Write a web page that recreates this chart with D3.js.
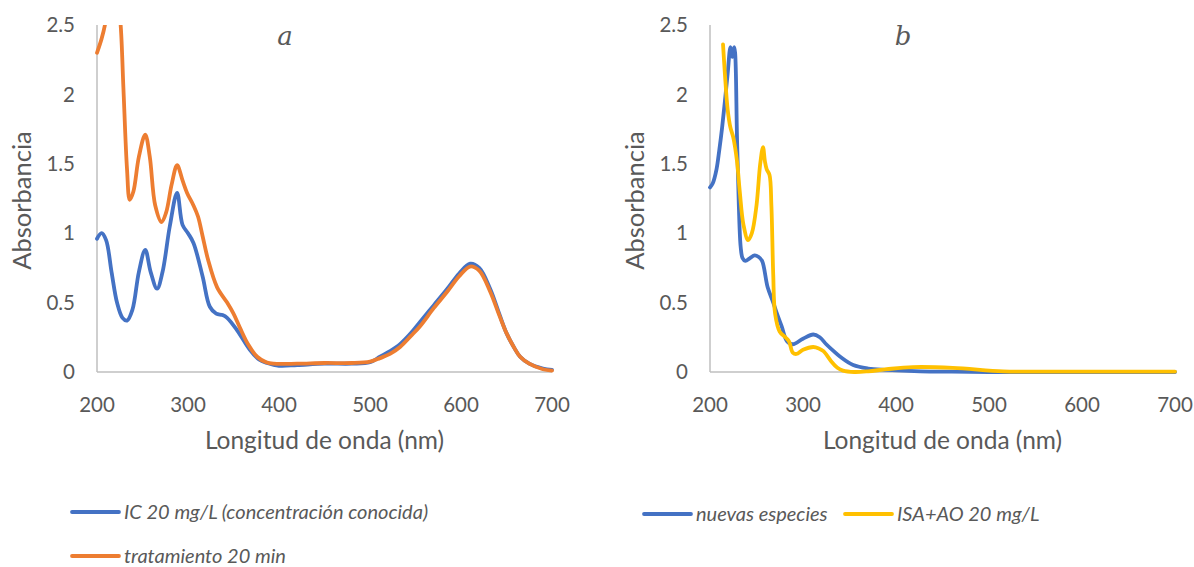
<!DOCTYPE html>
<html>
<head>
<meta charset="utf-8">
<script src="https://cdn.jsdelivr.net/npm/d3@7"></script>
<style>
  body { margin: 0; background: #fff; }
  text { font-family: Lato, "Open Sans", sans-serif; fill: #595959; }
</style>
</head>
<body>
<div id="chart"></div>
<script>
// panel a
const icNm = [200, 205, 210, 216, 222, 228, 233, 239, 246, 253, 259, 266, 272, 280, 288, 294, 300, 306, 316, 324, 331, 338, 343, 354, 368, 378, 387, 400, 420, 450, 480, 500, 511, 522, 533, 545, 555, 570, 585, 598, 610, 620, 632, 642, 650, 658, 665, 675, 690, 700];
const icAbs = [0.96, 1.0, 0.95, 0.72, 0.5, 0.39, 0.37, 0.45, 0.72, 0.88, 0.72, 0.6, 0.72, 1.05, 1.29, 1.06, 1.0, 0.93, 0.69, 0.47, 0.42, 0.41, 0.39, 0.3, 0.16, 0.09, 0.065, 0.045, 0.05, 0.06, 0.06, 0.07, 0.11, 0.15, 0.2, 0.28, 0.36, 0.48, 0.6, 0.71, 0.78, 0.75, 0.6, 0.42, 0.28, 0.18, 0.11, 0.06, 0.025, 0.015];

const trNm = [200, 205, 209, 213, 218, 222, 226, 229, 233, 236, 240, 246, 253, 258, 264, 271, 276, 282, 288, 294, 299, 306, 311, 316, 322, 332, 343, 350, 357, 366, 376, 386, 394, 420, 450, 480, 500, 511, 522, 533, 545, 555, 570, 585, 598, 610, 620, 632, 642, 650, 658, 665, 675, 690, 700];
const trAbs = [2.3, 2.4, 2.51, 2.75, 2.9, 2.75, 2.5, 2.05, 1.46, 1.24, 1.3, 1.55, 1.71, 1.55, 1.2, 1.08, 1.15, 1.35, 1.49, 1.38, 1.29, 1.2, 1.12, 0.98, 0.81, 0.61, 0.5, 0.42, 0.32, 0.2, 0.11, 0.07, 0.06, 0.06, 0.065, 0.065, 0.075, 0.1, 0.13, 0.18, 0.26, 0.33, 0.46, 0.58, 0.69, 0.76, 0.73, 0.58, 0.41, 0.28, 0.18, 0.11, 0.06, 0.02, 0.01];

// panel b
const nuNm = [200, 203, 207, 210, 213, 216, 219, 222, 224, 226, 227, 229, 231, 233, 235, 238, 243, 248, 252, 256, 262, 268, 272, 277, 283, 289, 300, 311, 318, 325, 333, 340, 354, 370, 390, 426, 460, 500, 550, 600, 700];
const nuAbs = [1.33, 1.36, 1.46, 1.6, 1.76, 1.95, 2.15, 2.34, 2.27, 2.34, 2.3, 1.7, 1.2, 0.9, 0.82, 0.8, 0.82, 0.84, 0.83, 0.8, 0.61, 0.5, 0.42, 0.33, 0.22, 0.2, 0.24, 0.27, 0.25, 0.2, 0.15, 0.11, 0.05, 0.025, 0.015, 0.005, 0.002, 0, 0, 0, 0];

const isNm = [214, 216, 219, 222, 225, 229, 232, 236, 241, 245, 250, 254, 257, 259, 261, 264, 266, 268, 270, 275, 281, 285, 289, 293, 300, 311, 317, 322, 330, 337, 343, 355, 370, 390, 418, 461, 515, 555, 600, 700];
const isAbs = [2.36, 2.15, 1.89, 1.76, 1.69, 1.52, 1.3, 1.06, 0.95, 1.0, 1.2, 1.5, 1.62, 1.52, 1.46, 1.42, 1.2, 0.7, 0.42, 0.29, 0.25, 0.22, 0.14, 0.13, 0.16, 0.18, 0.17, 0.15, 0.08, 0.03, 0.01, 0, 0.005, 0.02, 0.035, 0.03, 0.005, 0.003, 0.003, 0.003];

const xTicks = [200, 300, 400, 500, 600, 700];
const yTicks = [0, 0.5, 1, 1.5, 2, 2.5];

const width = 1194, height = 567;

const svg = d3.select("#chart")
  .append("svg")
  .attr("width", width)
  .attr("height", height);

function panel(id, box, series, letter, legend) {
  let x = d3.scaleLinear().domain([200, 700]).range([box.left, box.right]),
      y = d3.scaleLinear().domain([0, 2.5]).range([box.bottom, box.top]);

  svg.append("clipPath")
    .attr("id", "clip-" + id)
    .append("rect")
    .attr("x", box.left - 5)
    .attr("y", box.top)
    .attr("width", box.right - box.left + 10)
    .attr("height", box.bottom - box.top + 10);

  // axis lines only, no ticks
  svg.append("line")
    .attr("x1", box.left).attr("x2", box.left)
    .attr("y1", box.top).attr("y2", box.bottom)
    .style("stroke", "#bfbfbf").style("stroke-width", 1.5);
  svg.append("line")
    .attr("x1", box.left).attr("x2", box.right)
    .attr("y1", box.bottom).attr("y2", box.bottom)
    .style("stroke", "#bfbfbf").style("stroke-width", 1.5);

  svg.selectAll(".ytick-" + id)
    .data(yTicks)
    .enter()
    .append("text")
    .attr("class", "ytick-" + id)
    .attr("x", box.left - 22)
    .attr("y", (d) => y(d))
    .attr("dy", "0.35em")
    .attr("text-anchor", "end")
    .style("font-size", "20.5px")
    .text((d) => d);

  svg.selectAll(".xtick-" + id)
    .data(xTicks)
    .enter()
    .append("text")
    .attr("class", "xtick-" + id)
    .attr("x", (d) => x(d))
    .attr("y", box.bottom + 33)
    .attr("dy", "0.35em")
    .attr("text-anchor", "middle")
    .style("font-size", "20.5px")
    .text((d) => d);

  svg.append("text")
    .text("Longitud de onda (nm)")
    .attr("x", (box.left + box.right) / 2)
    .attr("y", box.bottom + 77)
    .attr("text-anchor", "middle")
    .style("font-size", "24.5px");

  svg.append("text")
    .text("Absorbancia")
    .attr("transform", "translate(" + (box.left - 66) + "," + ((box.top + box.bottom) / 2 + 2) + ") rotate(-90)")
    .attr("text-anchor", "middle")
    .style("font-size", "25.5px");

  svg.append("text")
    .text(letter.t)
    .attr("x", letter.x)
    .attr("y", 45)
    .attr("text-anchor", "middle")
    .style("font-family", "'DejaVu Serif', 'Liberation Serif', serif")
    .style("font-style", "italic")
    .style("font-size", "26px");

  let line = d3.line()
    .x((d) => x(d[0]))
    .y((d) => y(d[1]))
    .curve(d3.curveCatmullRom.alpha(0.5));

  series.forEach(function(s) {
    let pts = s.nm.map((v, i) => [v, s.abs[i]]);
    svg.append("path")
      .datum(pts)
      .attr("d", line)
      .attr("clip-path", "url(#clip-" + id + ")")
      .style("fill", "none")
      .style("stroke", s.color)
      .style("stroke-width", 3.8)
      .style("stroke-linejoin", "round")
      .style("stroke-linecap", "round");
  });

  legend.forEach(function(l, i) {
    let s = series[i];
    svg.append("line")
      .attr("x1", l.x).attr("x2", l.x + 47)
      .attr("y1", l.y).attr("y2", l.y)
      .style("stroke", s.color)
      .style("stroke-width", 3.8)
      .style("stroke-linecap", "round");
    svg.append("text")
      .text(s.name)
      .attr("x", l.x + 52)
      .attr("y", l.y)
      .attr("dy", "0.35em")
      .style("font-style", "italic")
      .style("font-size", "20px");
  });
}

panel("a", {left: 97, right: 552, top: 25, bottom: 372}, [
  {name: "IC 20 mg/L (concentración conocida)", nm: icNm, abs: icAbs, color: "#4472c4"},
  {name: "tratamiento 20 min", nm: trNm, abs: trAbs, color: "#ed7d31"}
], {t: "a", x: 285}, [{x: 72, y: 512}, {x: 72, y: 556}]);

panel("b", {left: 710, right: 1175, top: 25, bottom: 372}, [
  {name: "nuevas especies", nm: nuNm, abs: nuAbs, color: "#4472c4"},
  {name: "ISA+AO 20 mg/L", nm: isNm, abs: isAbs, color: "#ffc000"}
], {t: "b", x: 903}, [{x: 644, y: 514}, {x: 845, y: 514}]);
</script>
</body>
</html>
